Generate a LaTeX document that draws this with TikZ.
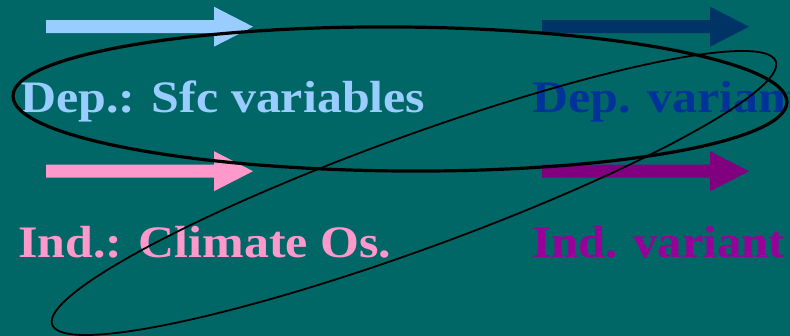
\documentclass[tikz,border=0pt]{standalone}
\usepackage{fontspec}
\setmainfont{Liberation Serif}
\definecolor{bgteal}{HTML}{006666}
\definecolor{lblue}{HTML}{99CCFF}
\definecolor{dblue}{HTML}{003366}
\definecolor{dbtext}{HTML}{003399}
\definecolor{lpink}{HTML}{FF99CC}
\definecolor{purparrow}{HTML}{800080}
\definecolor{purptext}{HTML}{990099}
\tikzset{
  lbl/.style={anchor=base west, inner sep=0pt, font=\fontsize{45}{50}\selectfont\bfseries}
}
\newcommand{\widetext}[2][1.11]{\scalebox{#1}[1]{#2}}
\newcommand{\fatarrowat}[3]{% x, y center, colour
  \fill[#3] (#1,#2+6.5) -- (#1+168,#2+6.5) -- (#1+168,#2+20) -- (#1+207,#2) -- (#1+168,#2-20) -- (#1+168,#2-6.5) -- (#1,#2-6.5) -- cycle;}
\begin{document}
\begin{tikzpicture}[x=1pt,y=1pt]
\fill[bgteal] (0,0) rectangle (790,-336);
\useasboundingbox (0,0) rectangle (790,-336);
\node[lbl, text=lblue] (dep) at (20,-113) {\widetext{Dep.: Sfc variables}};
\node[lbl, text=dbtext] (depv) at (532,-113) {\widetext{Dep. variant}};
\node[lbl, text=lpink] (ind) at (18,-258) {\widetext{Ind.: Climate Os.}};
\node[lbl, text=purptext] (indv) at (532,-258) {\widetext[1.08]{Ind. variant}};
\fatarrowat{46}{-26.7}{lblue}
\fatarrowat{542}{-26.7}{dblue}
\fatarrowat{46}{-171.2}{lpink}
\fatarrowat{542}{-171.2}{purparrow}
\coordinate (c1) at (400,-99);
\coordinate (c2) at (414,-193);
\draw[line width=3.2pt, rotate around={-0.45:(c1)}] (c1) ellipse [x radius=387, y radius=72];
\draw[line width=1.8pt, rotate around={20:(c2)}] (c2) ellipse [x radius=385, y radius=56.5];
\end{tikzpicture}
\end{document}
